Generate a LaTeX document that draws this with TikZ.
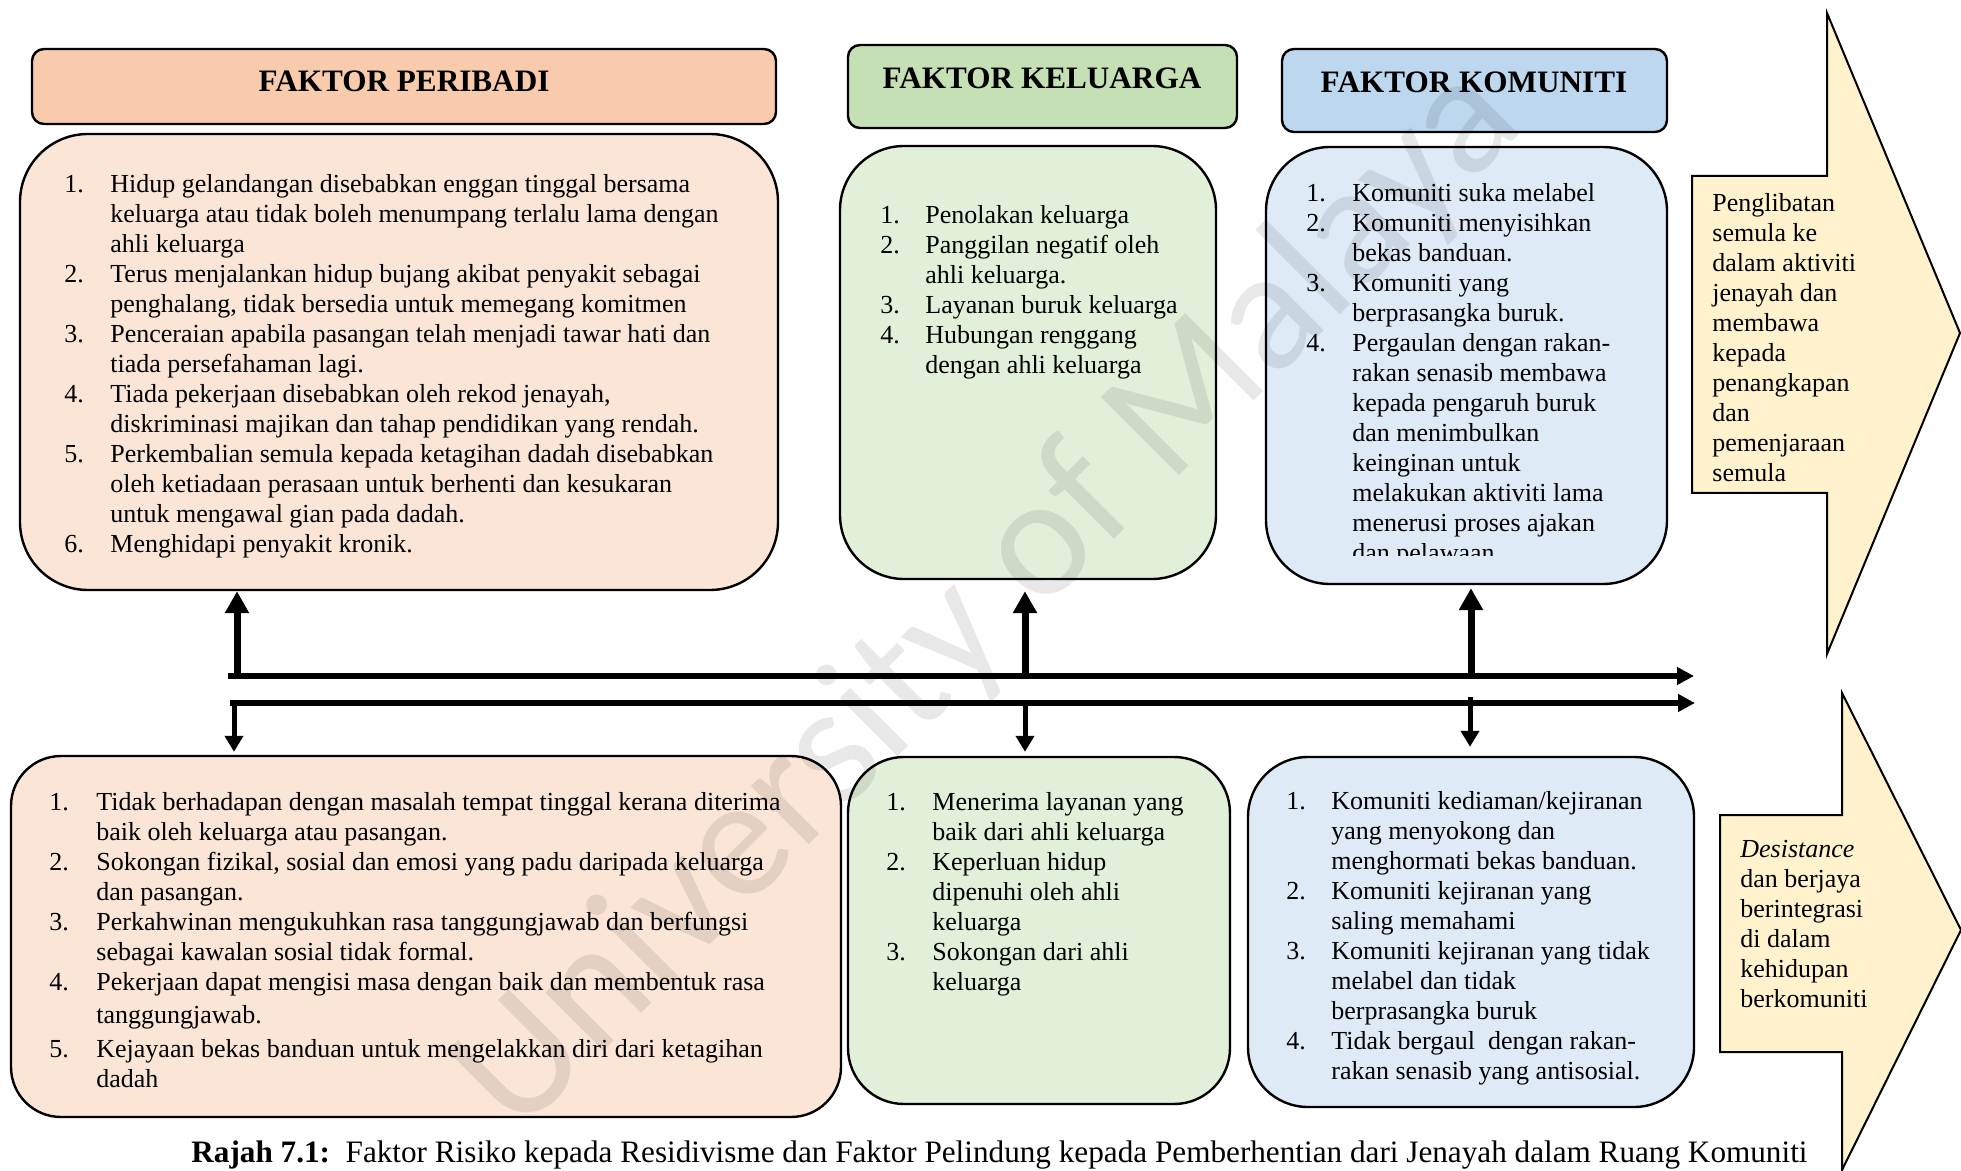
\documentclass[tikz,border=0pt]{standalone}
\usepackage{fontspec}
\setmainfont{Liberation Serif}
\newfontfamily\wmfont{Carlito}
\usetikzlibrary{arrows.meta,fit}

\definecolor{peachhead}{HTML}{F8CBAD}
\definecolor{peachbody}{HTML}{FBE5D6}
\definecolor{greenhead}{HTML}{C5E0B4}
\definecolor{greenbody}{HTML}{E2F0D9}
\definecolor{bluehead}{HTML}{BDD7EE}
\definecolor{bluebody}{HTML}{DEEBF7}
\definecolor{arrowfill}{HTML}{FFF2CC}

\tikzset{
  headbox/.style={draw, line width=1.2pt, rounded corners=6pt, inner sep=0pt},
  itembox/.style={draw, line width=1.2pt, inner sep=0pt},
  headtext/.style={anchor=base, inner sep=0pt, font=\fontsize{15.6}{18}\selectfont\bfseries},
  listtext/.style={anchor=north west, inner sep=0pt, font=\fontsize{13}{15}\selectfont},
  mainline/.style={line width=3pt, -{Triangle[width=8.5pt,length=8.5pt]}},
  upline/.style={line width=3.5pt, -{Triangle[width=11.5pt,length=11pt]}},
  downline/.style={line width=2.5pt, -{Triangle[width=9pt,length=8pt]}},
  bigarrow/.style={draw, line width=1pt, fill=arrowfill, line join=miter}
}

\begin{document}
\begin{tikzpicture}[x=0.5pt, y=-0.5pt]
  \useasboundingbox (0,0) rectangle (1961,1171);

  % tajuk faktor
  \node[headbox, fill=peachhead, fit={(32,49) (776,124)}] (headPer) {};
  \node[headbox, fill=greenhead, fit={(848,45) (1237,128)}] (headKel) {};
  \node[headbox, fill=bluehead, fit={(1282,49) (1667,132)}] (headKom) {};
  \node[headtext] (headPerTxt) at (404,92) {FAKTOR PERIBADI};
  \node[headtext] (headKelTxt) at (1042,89) {FAKTOR KELUARGA};
  \node[headtext] (headKomTxt) at (1474,93) {FAKTOR KOMUNITI};

  % kotak faktor risiko (atas)
  \node[itembox, fill=peachbody, rounded corners=34pt, fit={(20,134) (778,590)}] (riskPer) {};
  \node[itembox, fill=greenbody, rounded corners=32pt, fit={(840,146) (1216,579)}] (riskKel) {};
  \node[itembox, fill=bluebody, rounded corners=32pt, fit={(1266,147) (1667,584)}] (riskKom) {};

  % kotak faktor pelindung (bawah)
  \node[itembox, fill=peachbody, rounded corners=25pt, fit={(11,756) (841,1117)}] (protPer) {};
  \node[itembox, fill=greenbody, rounded corners=28pt, fit={(848,757) (1230,1104)}] (protKel) {};
  \node[itembox, fill=bluebody, rounded corners=30pt, fit={(1248,757) (1694,1107)}] (protKom) {};

  % anak panah besar ke kanan
  \draw[bigarrow] (1692,176) -- (1827,176) -- (1827,13) -- (1960,333) -- (1827,654) -- (1827,493) -- (1692,493) -- cycle;
  \draw[bigarrow] (1720,815) -- (1842,815) -- (1842,693) -- (1961,930) -- (1842,1170) -- (1842,1052) -- (1720,1052) -- cycle;

  % senarai risiko
  \node[listtext] (riskPerTxt) at (64,171) {%
    \begin{tabular}{@{}p{23pt}@{}l@{}}
    1. & Hidup gelandangan disebabkan enggan tinggal bersama\\
       & keluarga atau tidak boleh menumpang terlalu lama dengan\\
       & ahli keluarga\\
    2. & Terus menjalankan hidup bujang akibat penyakit sebagai\\
       & penghalang, tidak bersedia untuk memegang komitmen\\
    3. & Penceraian apabila pasangan telah menjadi tawar hati dan\\
       & tiada persefahaman lagi.\\
    4. & Tiada pekerjaan disebabkan oleh rekod jenayah,\\
       & diskriminasi majikan dan tahap pendidikan yang rendah.\\
    5. & Perkembalian semula kepada ketagihan dadah disebabkan\\
       & oleh ketiadaan perasaan untuk berhenti dan kesukaran\\
       & untuk mengawal gian pada dadah.\\
    6. & Menghidapi penyakit kronik.
    \end{tabular}};

  \node[listtext] (riskKelTxt) at (880,202) {%
    \begin{tabular}{@{}p{22.5pt}@{}l@{}}
    1. & Penolakan keluarga\\
    2. & Panggilan negatif oleh\\
       & ahli keluarga.\\
    3. & Layanan buruk keluarga\\
    4. & Hubungan renggang\\
       & dengan ahli keluarga
    \end{tabular}};

  % teks terakhir terpotong oleh kotak
  \begin{scope}
    \clip (1270,150) rectangle (1660,556);
    \node[listtext] (riskKomTxt) at (1306,180) {%
      \begin{tabular}{@{}p{23pt}@{}l@{}}
      1. & Komuniti suka melabel\\
      2. & Komuniti menyisihkan\\
         & bekas banduan.\\
      3. & Komuniti yang\\
         & berprasangka buruk.\\
      4. & Pergaulan dengan rakan-\\
         & rakan senasib membawa\\
         & kepada pengaruh buruk\\
         & dan menimbulkan\\
         & keinginan untuk\\
         & melakukan aktiviti lama\\
         & menerusi proses ajakan\\
         & dan pelawaan
      \end{tabular}};
  \end{scope}

  \node[listtext] (outRiskTxt) at (1712,190) {%
    \begin{tabular}{@{}l@{}}
    Penglibatan\\ semula ke\\ dalam aktiviti\\ jenayah dan\\ membawa\\
    kepada\\ penangkapan\\ dan\\ pemenjaraan\\ semula
    \end{tabular}};

  % senarai pelindung
  \node[listtext] (protPerTxt) at (49,789) {%
    \begin{tabular}{@{}p{23.5pt}@{}l@{}}
    1. & Tidak berhadapan dengan masalah tempat tinggal kerana diterima\\
       & baik oleh keluarga atau pasangan.\\
    2. & Sokongan fizikal, sosial dan emosi yang padu daripada keluarga\\
       & dan pasangan.\\
    3. & Perkahwinan mengukuhkan rasa tanggungjawab dan berfungsi\\
       & sebagai kawalan sosial tidak formal.\\
    4. & Pekerjaan dapat mengisi masa dengan baik dan membentuk rasa\\[1.5pt]
       & tanggungjawab.\\[2pt]
    5. & Kejayaan bekas banduan untuk mengelakkan diri dari ketagihan\\
       & dadah
    \end{tabular}};

  \node[listtext] (protKelTxt) at (886,789) {%
    \begin{tabular}{@{}p{23pt}@{}l@{}}
    1. & Menerima layanan yang\\
       & baik dari ahli keluarga\\
    2. & Keperluan hidup\\
       & dipenuhi oleh ahli\\
       & keluarga\\
    3. & Sokongan dari ahli\\
       & keluarga
    \end{tabular}};

  \node[listtext] (protKomTxt) at (1286,788) {%
    \begin{tabular}{@{}p{22.5pt}@{}l@{}}
    1. & Komuniti kediaman/kejiranan\\
       & yang menyokong dan\\
       & menghormati bekas banduan.\\
    2. & Komuniti kejiranan yang\\
       & saling memahami\\
    3. & Komuniti kejiranan yang tidak\\
       & melabel dan tidak\\
       & berprasangka buruk\\
    4. & Tidak bergaul\ \ dengan rakan-\\
       & rakan senasib yang antisosial.
    \end{tabular}};

  \node[listtext] (outProtTxt) at (1740,836) {%
    \begin{tabular}{@{}l@{}}
    \textit{Desistance}\\ dan berjaya\\ berintegrasi\\ di dalam\\ kehidupan\\ berkomuniti
    \end{tabular}};

  % garis utama
  \coordinate (riskStart) at (228,676);
  \coordinate (riskEnd) at (1694,676);
  \coordinate (protStart) at (230,703);
  \coordinate (protEnd) at (1695,703);
  \draw[mainline] (riskStart) -- (riskEnd);
  \draw[mainline] (protStart) -- (protEnd);

  % anak panah ke atas
  \coordinate (upPer) at (237,677);
  \coordinate (upKel) at (1025,677);
  \coordinate (upKom) at (1471,677);
  \draw[upline] (upPer) -- (upPer |- riskPer.south);
  \draw[upline] (upKel) -- ([yshift=-5.5pt]upKel |- riskKel.south);
  \draw[upline] (upKom) -- ([yshift=-1.5pt]upKom |- riskKom.south);

  % anak panah ke bawah
  \coordinate (downPer) at (234,702);
  \coordinate (downKel) at (1025,702);
  \coordinate (downKom) at (1470,697);
  \draw[downline] (downPer) -- ([yshift=1.5pt]downPer |- protPer.north);
  \draw[downline] (downKel) -- ([yshift=2pt]downKel |- protKel.north);
  \draw[downline] (downKom) -- ([yshift=4.5pt]downKom |- protKom.north);

  % kapsyen
  \node[anchor=base west, inner sep=0pt, font=\fontsize{15.6}{18}\selectfont] (caption) at (191,1162)
    {\textbf{Rajah 7.1:}\ \ Faktor Risiko kepada Residivisme dan Faktor Pelindung kepada Pemberhentian dari Jenayah dalam Ruang Komuniti};

  % tera air
  \node[rotate=45, text opacity=0.09, font=\wmfont\fontsize{86}{86}\selectfont] (wmark) at (990,600) {University of Malaya};

\end{tikzpicture}
\end{document}
